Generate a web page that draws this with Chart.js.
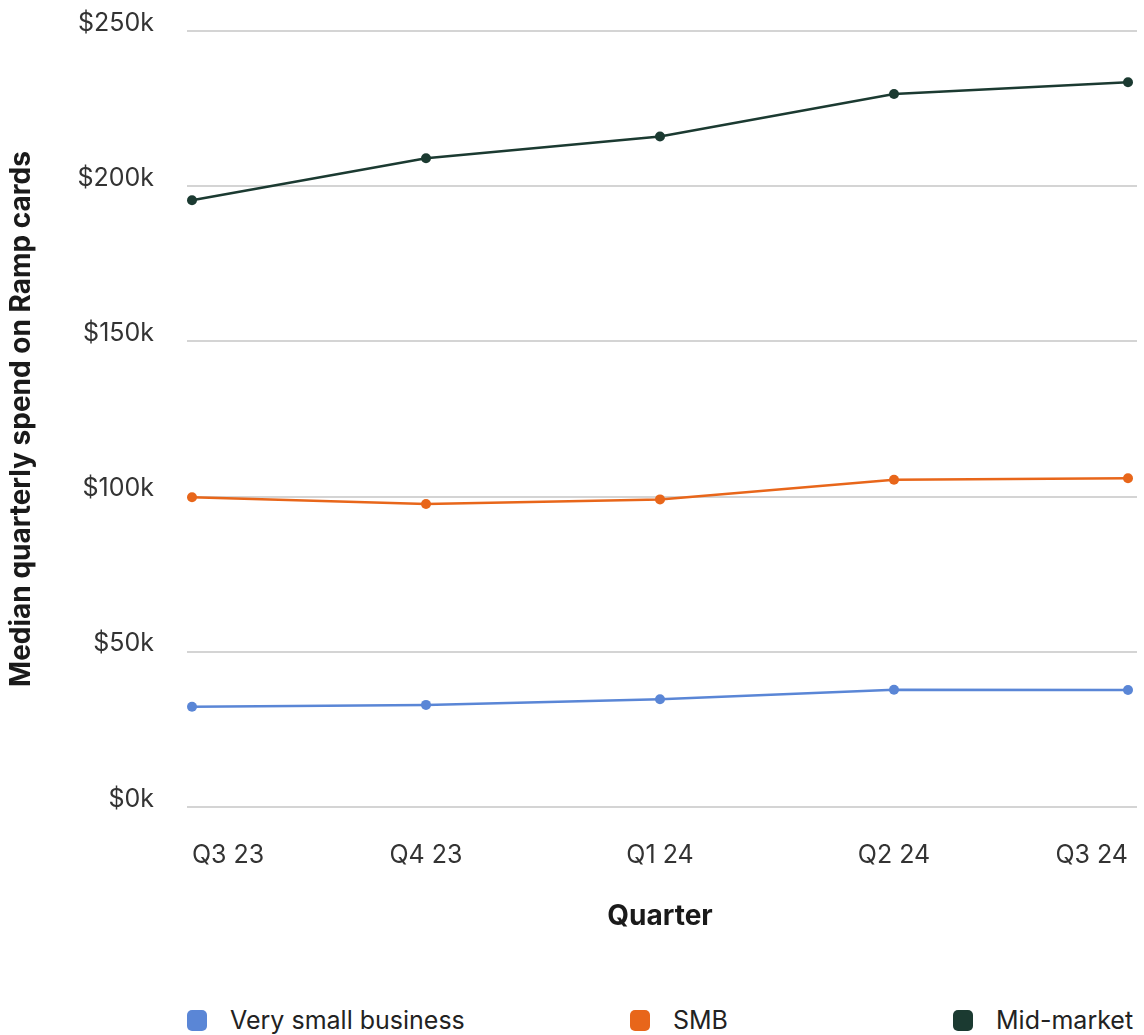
<!DOCTYPE html>
<html>
<head>
<meta charset="utf-8">
<script src="https://cdn.jsdelivr.net/npm/chart.js@4.4.1/dist/chart.umd.min.js"></script>
<style>
  body { margin: 0; background: #fff; font-family: Inter, sans-serif; }
  #wrap { position: relative; width: 1144px; height: 1035px; }
  #legend { position: absolute; left: 0; top: 1005px; width: 1144px; height: 30px; font-size: 25px; color: #222; }
  #legend .item { position: absolute; top: 0; display: flex; align-items: center; white-space: nowrap; }
  #legend .box { width: 20px; height: 21px; border-radius: 5px; margin-right: 23px; }
</style>
</head>
<body>
<div id="wrap">
  <canvas id="chart" width="1144" height="960"></canvas>
  <div id="legend"></div>
</div>
<script>
// data
const quarters = ['Q3 23', 'Q4 23', 'Q1 24', 'Q2 24', 'Q3 24'];
const verySmall = [32300, 32900, 34700, 37800, 37700];
const smb = [99800, 97600, 99100, 105400, 105900];
const midMarket = [195500, 209000, 216000, 229700, 233500];
const yTicks = [0, 50000, 100000, 150000, 200000, 250000];

const seriesNames = ['Very small business', 'SMB', 'Mid-market'];
const seriesColors = ['#5A86D6', '#E8661A', '#1B3A31'];
const seriesData = [verySmall, smb, midMarket];
const legendLeft = [187, 630, 953];

// horizontal grid lines that run a bit past the first and last point
const gridPlugin = {
  id: 'wideGrid',
  beforeDatasetsDraw(chart) {
    const c = chart.ctx, y = chart.scales.y, area = chart.chartArea;
    c.save();
    c.strokeStyle = '#d4d4d4';
    c.lineWidth = 2;
    yTicks.forEach(v => {
      const py = Math.round(y.getPixelForValue(v));
      c.beginPath();
      c.moveTo(area.left - 5, py);
      c.lineTo(area.right + 9, py);
      c.stroke();
    });
    c.restore();
  }
};

const ctx = document.getElementById('chart').getContext('2d');
const chart = new Chart(ctx, {
  type: 'line',
  data: {
    labels: quarters,
    datasets: seriesData.map((d, i) => ({
      label: seriesNames[i],
      data: d,
      borderColor: seriesColors[i],
      backgroundColor: seriesColors[i],
      pointBackgroundColor: seriesColors[i],
      pointBorderWidth: 0,
      pointRadius: 5,
      borderWidth: 2.5,
      tension: 0
    }))
  },
  options: {
    responsive: false,
    devicePixelRatio: 1,
    animation: false,
    layout: { padding: { top: 31, right: 16, bottom: 23, left: 0 } },
    plugins: { legend: { display: false }, tooltip: { enabled: false } },
    scales: {
      x: {
        grid: { display: false, drawTicks: false },
        border: { display: false },
        ticks: { align: 'inner', padding: 33, color: '#333', font: { family: 'Inter', size: 25 }, maxRotation: 0 },
        title: { display: true, text: 'Quarter', color: '#1a1a1a', font: { family: 'Inter', size: 28, weight: 'bold' }, padding: { top: 0, bottom: 4 } },
        afterFit: s => { s.height = 130; s.paddingLeft = 0; s.paddingRight = 0; }
      },
      y: {
        min: 0, max: 250000,
        afterBuildTicks: s => { s.ticks = yTicks.map(v => ({ value: v })); },
        grid: { display: false, drawTicks: false },
        border: { display: false },
        ticks: {
          padding: 38, labelOffset: -8, color: '#333',
          font: { family: 'Inter', size: 25 },
          callback: v => '$' + (v / 1000) + 'k'
        },
        title: { display: true, text: 'Median quarterly spend on Ramp cards', color: '#1a1a1a', font: { family: 'Inter', size: 28, weight: 'bold' }, padding: { top: 5, bottom: 0 } },
        afterFit: s => { s.width = 192; s.paddingTop = 0; s.paddingBottom = 0; }
      }
    }
  },
  plugins: [gridPlugin]
});

// legend under the plot
const legend = document.getElementById('legend');
seriesNames.forEach((name, i) => {
  const item = document.createElement('div');
  item.className = 'item';
  item.style.left = legendLeft[i] + 'px';
  item.innerHTML = `<span class="box" style="background:${seriesColors[i]}"></span><span>${name}</span>`;
  legend.appendChild(item);
});
</script>
</body>
</html>
